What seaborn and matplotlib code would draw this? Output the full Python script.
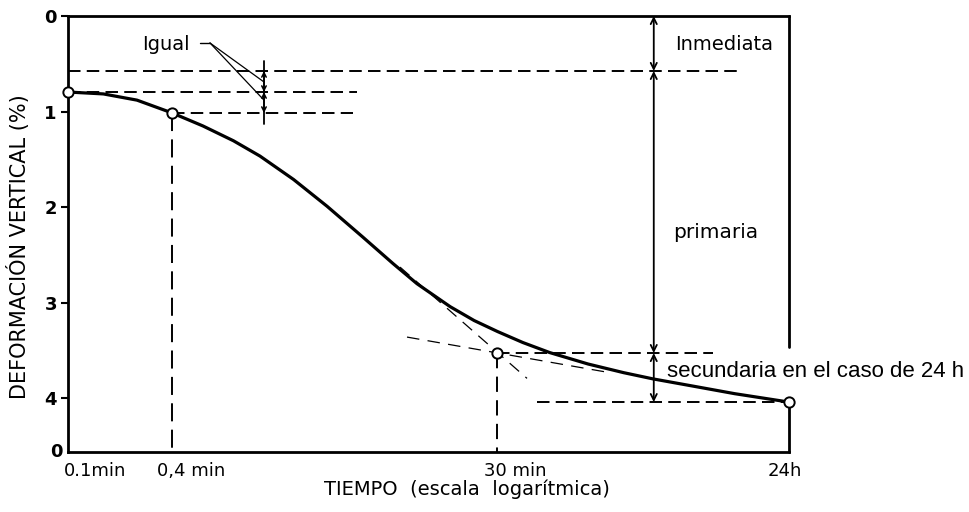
import numpy as np
import pandas as pd
import matplotlib
matplotlib.use("Agg")
import matplotlib.pyplot as plt
import seaborn as sns
from matplotlib.transforms import ScaledTranslation

# ---------------- data ----------------
time_min = [0.1, 0.16, 0.25, 0.4, 0.6, 0.9, 1.28, 2.0, 3.12, 5.0, 7.5,
            10.3, 16, 22, 30, 42, 60, 100, 160, 236, 400, 700, 1440]
deformation = [0.795, 0.815, 0.88, 1.015, 1.15, 1.305, 1.465, 1.71, 1.99, 2.31, 2.59,
               2.80, 3.04, 3.185, 3.30, 3.415, 3.52, 3.64, 3.73, 3.795, 3.87, 3.95, 4.038]

marker_time = [0.1, 0.4, 30, 1440]
marker_def = [0.795, 1.015, 3.525, 4.038]

x_ticks = [0.1, 0.4, 30, 1440]
x_tick_labels = ["0.1min", "0,4 min", "30 min", "24h"]
y_ticks = [0, 1, 2, 3, 4]

immediate_level = 0.575
start_level = 0.795
level_04 = 1.015
level_30 = 3.525
level_24h = 4.038

# construction lines (time ranges)
immediate_line_end = 721
start_line_end = 4.64
line04_end = 4.41
line30_end = 525
line24_start = 50.7

steep_tangent_t = [8.22, 44.4]
steep_tangent_d = [2.626, 3.79]
flat_tangent_t = [9.02, 137]
flat_tangent_d = [3.358, 3.734]

arrow_time = 239
igual_time = 1.35
igual_span = [0.47, 1.13]
igual_label_t, igual_label_d = 0.367, 0.30
igual_leader_start = [0.578, 0.659]
igual_leader_d = 0.282
igual_targets = [0.69, 0.88]

x_min, x_max = 0.1, 1440
y_bottom = 4.56
right_gap = [3.46, 4.038]

# ---------------- figure ----------------
sns.set_theme(style="ticks")
K = "black"
plt.rcParams['font.family'] = ['DejaVu Sans']
plt.rcParams['lines.scale_dashes'] = False
plt.rcParams['text.color'] = K
plt.rcParams['axes.labelcolor'] = K
plt.rcParams['xtick.color'] = K
plt.rcParams['ytick.color'] = K

fig = plt.figure(figsize=(9.7, 5.12), dpi=100)
ax = fig.add_axes([68/970, 1 - 452/512, (789 - 68)/970, (452 - 16)/512])
ax.set_xscale("log")
ax.set_xlim(x_min, x_max)
ax.set_ylim(y_bottom, 0)

df = pd.DataFrame({"t": time_min, "d": deformation})
sns.lineplot(data=df, x="t", y="d", ax=ax, color=K, lw=2.3, sort=False, zorder=4)

dash_h = (9, 4.5)
ax.plot([x_min, immediate_line_end], [immediate_level]*2, color=K, lw=1.4, dashes=dash_h, clip_on=False)
ax.plot([x_min, start_line_end], [start_level]*2, color=K, lw=1.4, dashes=dash_h)
ax.plot([0.4, line04_end], [level_04]*2, color=K, lw=1.4, dashes=dash_h)
ax.plot([30, line30_end], [level_30]*2, color=K, lw=1.4, dashes=dash_h)
ax.plot([line24_start, 1440], [level_24h]*2, color=K, lw=1.4, dashes=dash_h)
ax.plot([0.4, 0.4], [level_04, y_bottom], color=K, lw=1.4, dashes=(13, 6))
ax.plot([30, 30], [level_30, y_bottom], color=K, lw=1.4, dashes=(11, 6))
ax.plot(steep_tangent_t, steep_tangent_d, color=K, lw=0.9, dashes=(9, 6))
ax.plot(flat_tangent_t, flat_tangent_d, color=K, lw=0.9, dashes=(9, 6))

mk = pd.DataFrame({"t": marker_time, "d": marker_def})
sns.scatterplot(data=mk, x="t", y="d", ax=ax, s=55, facecolor="white",
                edgecolor=K, linewidth=1.4, zorder=6, clip_on=False)

ap = dict(arrowstyle="<->", lw=1.3, color=K, shrinkA=0, shrinkB=0, mutation_scale=11)
for a, b in [(0, immediate_level), (immediate_level, level_30), (level_30, level_24h)]:
    ax.annotate("", xy=(arrow_time, a), xytext=(arrow_time, b), arrowprops=ap)

ax.plot([igual_time]*2, igual_span, color=K, lw=1.3)
ap2 = dict(arrowstyle="<->", lw=1.1, color=K, shrinkA=0, shrinkB=0, mutation_scale=8)
ax.annotate("", xy=(igual_time, immediate_level), xytext=(igual_time, start_level), arrowprops=ap2)
ax.annotate("", xy=(igual_time, start_level), xytext=(igual_time, level_04), arrowprops=ap2)
ax.plot(igual_leader_start, [igual_leader_d]*2, color=K, lw=1.0)
for tgt in igual_targets:
    ax.plot([igual_leader_start[1], igual_time], [igual_leader_d, tgt], color=K, lw=0.9)

ax.text(igual_label_t, igual_label_d, "Igual", ha="center", va="center", fontsize=14)
ax.text(607, 0.30, "Inmediata", ha="center", va="center", fontsize=14)
ax.text(546, 2.26, "primaria", ha="center", va="center", fontsize=14.5)
ax.text(284, 3.72, "secundaria en el caso de 24 h", ha="left", va="center",
        fontsize=16, family=["Liberation Sans"], clip_on=False)

for s in ["left", "bottom", "top"]:
    ax.spines[s].set_linewidth(2)
    ax.spines[s].set_color(K)
ax.spines["right"].set_visible(False)
ax.plot([x_max, x_max], [0, right_gap[0]], color=K, lw=2, clip_on=False)
ax.plot([x_max, x_max], [right_gap[1], y_bottom], color=K, lw=2, clip_on=False)

ax.set_yticks(y_ticks)
ax.set_yticklabels([str(v) for v in y_ticks], fontweight="bold")
ax.tick_params(axis="y", direction="out", length=5, width=1.5, labelsize=13, pad=3)
ax.set_xticks(x_ticks)
ax.set_xticklabels(x_tick_labels)
ax.minorticks_off()
ax.tick_params(axis="x", length=0, labelsize=13, pad=7)
offsets = [27, 19, 18, -4]
for lbl, dx in zip(ax.get_xticklabels(), offsets):
    lbl.set_transform(lbl.get_transform() + ScaledTranslation(dx/100, 0, fig.dpi_scale_trans))

ax.annotate("0", xy=(0, 0), xycoords="axes fraction", xytext=(-4, 0),
            textcoords="offset points", ha="right", va="center", fontsize=13, fontweight="bold")

ax.set_xlabel("TIEMPO  (escala  logarítmica)", fontsize=14)
ax.xaxis.set_label_coords(0.553, -0.064)
ax.xaxis.label.set_va("top")
ax.set_ylabel("DEFORMACIÓN VERTICAL (%)", fontsize=15)
ax.yaxis.set_label_coords(-0.053, 0.472)

fig.savefig("out.png", dpi=100, facecolor="white")
